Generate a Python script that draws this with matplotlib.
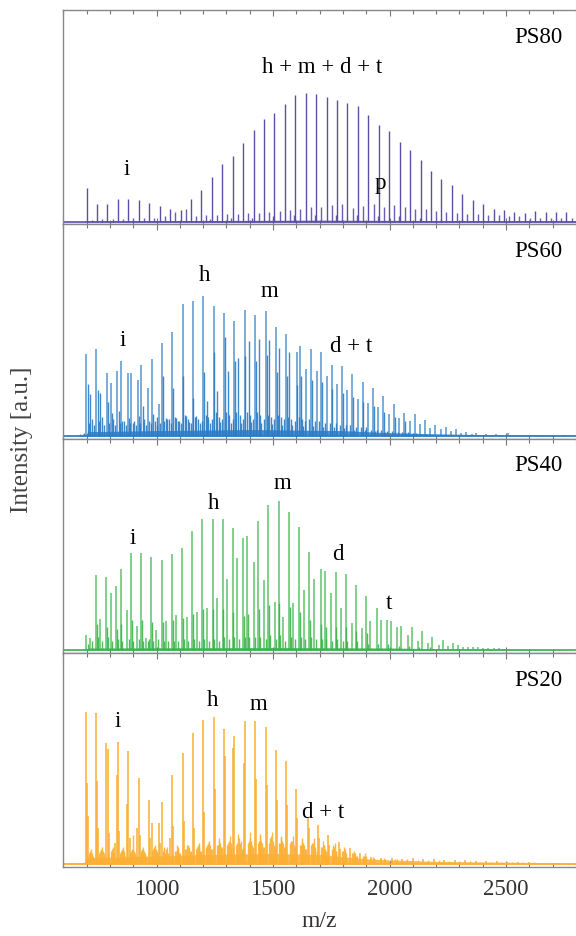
import numpy as np
import matplotlib
matplotlib.use('Agg')
import matplotlib.pyplot as plt
from matplotlib.ticker import MultipleLocator

plt.rcParams['font.family'] = ['Liberation Serif', 'DejaVu Serif']

# ---- data (m/z, intensity as % of panel height) ----
samples = ['PS80', 'PS60', 'PS40', 'PS20']
colors = ['#5a4fa6', '#2a7cc6', '#3cb54a', '#fbb034']

ps80_main = [(700, 15.6), (745, 8.4), (789, 8.1), (834, 10.7), (879, 10.6), (924, 10.4), (968, 9.0),
             (1013, 7.5), (1058, 5.9), (1103, 5.5), (1147, 10.7), (1192, 14.8), (1237, 20.9), (1282, 26.8),
             (1326, 30.8), (1371, 36.8), (1416, 43.1), (1461, 48.1), (1506, 50.8), (1550, 55.1), (1595, 59.2),
             (1640, 60.4), (1685, 59.8), (1730, 58.4), (1775, 56.9), (1819, 55.6), (1864, 53.9), (1909, 50.0),
             (1954, 45.0), (1998, 42.5), (2043, 37.1), (2088, 33.5), (2133, 28.7), (2177, 23.7), (2222, 20.1),
             (2267, 17.0), (2312, 13.2), (2356, 10.3), (2401, 8.1), (2446, 6.2), (2491, 5.3), (2535, 4.5),
             (2580, 4.2), (2625, 5.0), (2670, 4.7), (2715, 4.5), (2759, 4.7)]
ps80_minor = [(722, 1.0), (767, 1.2), (811, 1.5), (856, 1.5), (901, 1.8), (946, 1.8), (990, 2.0), (1035, 2.5),
              (1080, 4.5), (1125, 6.0), (1169, 2.5), (1214, 3.0), (1259, 3.0), (1304, 3.5), (1348, 3.5),
              (1393, 4.0), (1438, 4.0), (1483, 4.5), (1528, 5.0), (1572, 5.5), (1617, 6.0), (1662, 6.8),
              (1707, 7.0), (1752, 8.0), (1797, 8.5), (1841, 6.5), (1886, 7.5), (1931, 8.5), (1976, 7.0),
              (2020, 8.0), (2065, 7.0), (2110, 6.0), (2155, 6.0), (2199, 5.0), (2244, 4.5), (2289, 4.0),
              (2334, 3.5), (2378, 3.5), (2423, 3.0), (2468, 3.0), (2513, 2.5), (2557, 2.5), (2602, 2.0),
              (2647, 2.0), (2692, 2.0), (2737, 2.0), (2781, 2.0)]
ps80_small = [(1230, 1.5), (1320, 2.0), (1410, 2.0), (1500, 2.5), (1590, 3.0), (1680, 3.0), (1770, 3.0),
              (1860, 3.0), (1950, 2.5), (2040, 2.5), (2130, 2.0), (2220, 1.5), (2310, 1.5)]
ps80_floor = [(600, 0.0), (690, 0.0), (700, 0.4), (1200, 0.6), (1700, 0.8), (2200, 0.6), (2800, 0.4)]

ps60_main = [(697, 38.5), (741, 40.8), (786, 29.3), (803, 24.9), (831, 30.2), (847, 35.0), (876, 29.3),
             (891, 29.3), (920, 26.3), (934, 33.0), (964, 22.3), (979, 36.0), (1009, 15.1), (1023, 43.3),
             (1068, 48.5), (1112, 61.4), (1155, 62.8), (1201, 65.3), (1245, 60.6), (1289, 57.6), (1333, 53.6),
             (1378, 59.0), (1423, 56.5), (1469, 58.5), (1512, 50.9), (1556, 47.4), (1601, 39.1), (1616, 41.8),
             (1643, 31.2), (1663, 40.5), (1687, 30.4), (1707, 39.0), (1731, 28.0), (1751, 33.2), (1775, 24.1),
             (1796, 32.9), (1819, 21.3), (1840, 29.1), (1864, 17.1), (1884, 25.4), (1908, 15.6), (1929, 22.6),
             (1952, 13.6), (1973, 18.5), (1997, 10.1), (2019, 15.1), (2041, 8.6), (2063, 10.7), (2086, 7.0),
             (2108, 10.1), (2130, 5.5), (2151, 7.3), (2174, 3.9), (2197, 5.0), (2219, 3.1), (2243, 4.2),
             (2263, 2.3), (2286, 3.1), (2307, 1.5), (2329, 2.0), (2352, 1.0), (2372, 1.2), (2415, 1.1),
             (2458, 0.9), (2508, 1.5), (2550, 0.6), (2600, 0.6), (2650, 0.5), (2700, 0.5), (2750, 0.5)]
ps60_minor = [(672, 0.8), (683, 1.0), (690, 1.6), (705, 24.1), (716, 19.5), (748, 21.5), (759, 19.9),
              (792, 15.9), (808, 10.9), (837, 11.7), (853, 7.0), (882, 8.6), (900, 6.2), (924, 9.3), (940, 14.0),
              (969, 7.0), (986, 10.1), (1003, 8.9), (1026, 28.0), (1040, 8.3), (1053, 8.0), (1071, 22.6),
              (1083, 8.6), (1097, 7.0), (1115, 28.0), (1128, 9.3), (1141, 6.5), (1158, 17.9), (1171, 9.3),
              (1186, 6.0), (1204, 30.0), (1215, 16.4), (1230, 6.0), (1248, 39.0), (1260, 21.0), (1274, 6.5),
              (1292, 46.0), (1307, 30.4), (1318, 6.0), (1336, 35.0), (1351, 36.3), (1362, 6.0), (1381, 37.4),
              (1395, 44.4), (1406, 6.5), (1426, 35.0), (1439, 45.2), (1450, 6.0), (1472, 38.0), (1484, 44.7),
              (1495, 5.5), (1515, 30.0), (1527, 41.3), (1539, 5.0), (1559, 28.0), (1570, 39.0), (1583, 5.0),
              (1604, 24.0), (1619, 28.0), (1627, 4.5), (1666, 26.0), (1672, 4.5), (1710, 25.0), (1716, 4.0),
              (1754, 22.0), (1760, 4.0), (1799, 20.0), (1804, 3.5), (1843, 18.0), (1848, 3.0), (1887, 16.0),
              (1893, 3.0), (1932, 14.0), (1937, 2.5), (1976, 11.0), (1981, 2.0), (2022, 9.0), (2025, 2.0),
              (2066, 7.0), (2070, 1.5), (2114, 1.5), (2158, 1.0)]
ps60_small = [(711, 6), (722, 8), (730, 5), (755, 7), (766, 9), (774, 5), (798, 6), (815, 8), (822, 5), (842, 6),
              (860, 7), (868, 5), (886, 6), (905, 7), (912, 5), (929, 6), (947, 8), (955, 5), (974, 6), (993, 7),
              (1000, 5), (1016, 6), (1033, 7), (1046, 8), (1060, 6), (1077, 9), (1090, 7), (1104, 6), (1121, 10),
              (1134, 8), (1148, 6), (1164, 9), (1178, 8), (1193, 7), (1210, 10), (1222, 9), (1238, 8), (1254, 11),
              (1267, 9), (1282, 8), (1298, 11), (1312, 10), (1326, 8), (1343, 11), (1356, 10), (1370, 8),
              (1388, 11), (1400, 10), (1414, 8), (1432, 11), (1446, 10), (1460, 8), (1477, 10), (1490, 9),
              (1505, 8), (1520, 10), (1534, 9), (1548, 8), (1565, 9), (1578, 8), (1592, 7), (1610, 9), (1624, 8),
              (1636, 7), (1655, 8), (1680, 7), (1699, 7), (1724, 6), (1743, 6), (1768, 6), (1788, 5), (1812, 5),
              (1832, 5), (1856, 4), (1876, 4), (1900, 4), (1920, 3), (1945, 3), (1965, 3), (1990, 2.5),
              (2010, 2.5), (2035, 2), (2055, 2), (2080, 2), (2100, 1.5)]
ps60_floor = [(600, 0.3), (695, 0.3), (705, 2.0), (1000, 2.5), (1400, 3.0), (1800, 2.5), (2000, 1.5),
              (2200, 1.0), (2400, 0.6), (2800, 0.4)]

ps40_main = [(697, 7.0), (716, 5.5), (740, 35.0), (759, 14.5), (785, 34.1), (803, 26.5), (828, 29.8), (846, 37.9),
             (872, 18.7), (891, 45.2), (916, 11.1), (935, 45.5), (955, 5.5), (978, 43.3), (998, 9.2), (1023, 42.1),
             (1040, 13.7), (1066, 44.7), (1084, 16.4), (1110, 47.5), (1129, 15.6), (1154, 55.6), (1172, 17.9),
             (1197, 61.1), (1216, 19.5), (1241, 61.1), (1260, 24.1), (1283, 61.1), (1303, 33.2), (1327, 57.2),
             (1347, 42.8), (1371, 52.2), (1390, 53.4), (1417, 41.3), (1435, 60.4), (1461, 32.7), (1479, 67.8),
             (1507, 22.6), (1524, 69.6), (1543, 15.6), (1568, 64.3), (1586, 22.1), (1611, 57.5), (1631, 28.0),
             (1655, 45.9), (1677, 33.1), (1704, 37.7), (1722, 36.9), (1748, 26.8), (1768, 36.6), (1793, 19.5),
             (1811, 35.7), (1837, 12.5), (1855, 30.4), (1880, 10.5), (1899, 25.2), (1918, 13.6), (1944, 19.5),
             (1962, 13.9), (1988, 14.0), (2007, 13.6), (2033, 10.7), (2051, 11.4), (2077, 7.0), (2095, 10.7),
             (2121, 4.2), (2140, 8.9), (2166, 3.1), (2184, 5.9), (2210, 2.5), (2229, 4.7), (2250, 2.0),
             (2272, 3.1), (2293, 2.3), (2315, 1.6), (2337, 1.3), (2358, 1.3), (2380, 1.2), (2402, 1.1),
             (2424, 1.0), (2446, 0.8), (2468, 0.8), (2490, 0.6), (2512, 0.6)]
ps40_minor = [(705, 3), (724, 4), (748, 6), (766, 4), (792, 6), (810, 4), (836, 5), (853, 4), (880, 5), (898, 4),
              (924, 5), (941, 4), (962, 4), (968, 5), (985, 4), (1005, 5), (1030, 4), (1048, 4), (1073, 4),
              (1092, 4), (1117, 5), (1136, 4), (1161, 5), (1180, 4), (1205, 5), (1223, 4), (1248, 5), (1267, 4),
              (1290, 6), (1310, 5), (1334, 6), (1354, 5), (1378, 6), (1397, 6), (1424, 6), (1442, 6), (1468, 5),
              (1486, 7), (1514, 5), (1531, 7), (1550, 4), (1575, 6), (1593, 5), (1618, 6), (1638, 5), (1662, 6),
              (1684, 5), (1711, 5), (1729, 5), (1755, 4), (1775, 5), (1800, 4), (1818, 4), (1862, 4), (1906, 3),
              (1951, 3), (1995, 3), (2040, 2), (2084, 2), (2128, 1.5), (2173, 1.2)]
ps40_small = [(743, 12), (788, 11), (831, 10), (849, 12), (894, 14), (938, 14), (981, 13), (1026, 13),
              (1069, 14), (1113, 15), (1157, 17), (1200, 19), (1244, 19), (1286, 19), (1330, 18), (1374, 16),
              (1393, 17), (1438, 19), (1482, 21), (1527, 22), (1571, 20), (1614, 18), (1658, 14), (1707, 12),
              (1725, 11), (1771, 11), (1814, 11), (1858, 9), (1902, 8)]
ps40_floor = [(600, 0.2), (695, 0.2), (705, 1.0), (1500, 1.2), (2000, 1.0), (2200, 0.6), (2520, 0.4), (2800, 0.1)]

ps20_main = [(697, 71.3), (701, 37.9), (705, 22.6), (740, 70.4), (744, 38.9), (750, 16.8), (785, 56.5), (792, 53.9),
             (798, 14.5), (820, 9.8), (829, 41.7), (834, 56.9), (838, 15.4), (872, 28.0), (879, 52.7), (884, 12.0),
             (916, 16.8), (923, 40.2), (928, 13.7), (967, 30.0), (972, 12.0), (979, 19.2), (1011, 19.2),
             (1016, 10.0), (1023, 29.0), (1058, 12.1), (1067, 41.7), (1072, 18.0), (1114, 51.9), (1118, 20.0),
             (1158, 61.2), (1162, 16.8), (1201, 67.4), (1205, 24.3), (1246, 68.7), (1250, 35.0), (1288, 63.1),
             (1292, 50.5), (1330, 54.2), (1334, 59.7), (1376, 47.2), (1380, 66.7), (1423, 66.7), (1427, 40.0),
             (1469, 64.0), (1473, 37.0), (1512, 53.1), (1516, 30.0), (1557, 48.0), (1561, 27.7), (1600, 35.2),
             (1604, 21.5), (1649, 21.5), (1653, 17.0), (1693, 18.1), (1697, 12.0), (1737, 13.7), (1741, 9.0),
             (1782, 10.3), (1786, 7.0), (1828, 7.5), (1875, 5.1), (1920, 3.5), (1965, 3.0), (2010, 2.8),
             (2055, 2.5), (2100, 2.8), (2145, 2.5), (2190, 2.2), (2235, 2.0), (2280, 2.0), (2325, 1.8),
             (2370, 1.6), (2415, 1.5), (2460, 1.3), (2505, 1.2), (2550, 1.0), (2600, 0.9)]
ps20_minor = [(712, 5), (720, 7), (728, 4), (757, 6), (765, 8), (773, 5), (808, 7), (814, 5), (848, 6), (856, 8),
              (862, 5), (890, 6), (900, 13.7), (906, 5), (935, 6), (943, 8), (950, 5), (985, 7), (992, 9),
              (1000, 6), (1030, 7), (1037, 5), (1045, 8), (1082, 6), (1090, 8), (1096, 5), (1127, 7), (1135, 9),
              (1142, 6), (1173, 8), (1181, 10), (1187, 6), (1211, 7), (1218, 9), (1226, 11), (1233, 7), (1262, 9),
              (1270, 12), (1277, 8), (1306, 10), (1314, 13), (1321, 8), (1343, 9), (1350, 14), (1358, 10),
              (1365, 7), (1395, 11), (1403, 15), (1410, 9), (1435, 10), (1442, 14), (1450, 11), (1457, 8),
              (1487, 12), (1495, 15), (1502, 9), (1525, 10), (1532, 13), (1540, 11), (1547, 8), (1577, 11),
              (1585, 13), (1592, 8), (1615, 9), (1622, 12), (1630, 10), (1637, 7), (1667, 10), (1675, 12),
              (1682, 7), (1706, 8), (1713, 11), (1720, 9), (1727, 6), (1758, 9), (1765, 10), (1772, 6), (1795, 6),
              (1803, 8), (1810, 5), (1840, 5), (1848, 6), (1855, 4), (1885, 4), (1893, 5), (1930, 3.5), (1975, 3),
              (2030, 2.5), (2075, 2.2), (2120, 2), (2165, 2), (2210, 1.8), (2255, 1.5), (2300, 1.5), (2345, 1.3),
              (2390, 1.2), (2435, 1.1), (2480, 1.0), (2525, 0.9), (2570, 0.8), (2620, 0.8), (2670, 0.7),
              (2720, 0.7), (2770, 0.6)]
ps20_small = [(709, 4), (716, 6), (724, 5), (732, 3), (754, 5), (761, 7), (769, 6), (778, 4), (803, 6), (811, 8),
              (817, 5), (844, 5), (852, 7), (859, 6), (866, 4), (887, 5), (894, 7), (903, 6), (910, 4), (932, 5),
              (939, 7), (946, 6), (955, 4), (981, 6), (988, 8), (996, 7), (1004, 5), (1027, 6), (1034, 8),
              (1041, 7), (1050, 5), (1077, 6), (1086, 9), (1093, 7), (1101, 5), (1123, 7), (1131, 9), (1138, 8),
              (1147, 6), (1169, 7), (1177, 9), (1184, 8), (1192, 6), (1214, 8), (1222, 10), (1229, 9), (1238, 7),
              (1258, 9), (1266, 11), (1274, 10), (1282, 8), (1302, 9), (1310, 11), (1318, 10), (1326, 8),
              (1346, 10), (1354, 12), (1362, 11), (1370, 8), (1391, 10), (1399, 12), (1407, 11), (1415, 8),
              (1438, 11), (1446, 13), (1454, 10), (1462, 8), (1483, 10), (1491, 13), (1499, 11), (1507, 8),
              (1528, 10), (1536, 12), (1544, 10), (1552, 8), (1573, 10), (1581, 11), (1589, 9), (1596, 7),
              (1618, 9), (1626, 11), (1634, 9), (1642, 7), (1663, 9), (1671, 10), (1679, 8), (1687, 6), (1709, 8),
              (1717, 9), (1724, 7), (1732, 5), (1754, 7), (1762, 8), (1769, 6), (1777, 4), (1799, 6), (1807, 7),
              (1814, 5), (1844, 5), (1852, 5), (1860, 4), (1889, 4), (1897, 4), (1935, 3), (1980, 2.5),
              (2025, 2.5), (2070, 2)]
ps20_floor = [(600, 0.6), (690, 0.8), (700, 3.0), (900, 3.5), (1200, 4.5), (1500, 5.0), (1700, 4.5), (1800, 3.5),
              (1900, 2.5), (2000, 2.0), (2200, 1.3), (2500, 0.9), (2800, 0.6)]

# annotations: (text, m/z, height)
ps80_notes = [('h + m + d + t', 1709, 72.0), ('i', 873, 24.3), ('p', 1961, 18.0)]
ps60_notes = [('h', 1207, 75.1), ('m', 1486, 67.6), ('i', 856, 44.7), ('d + t', 1837, 41.9)]
ps40_notes = [('h', 1246, 68.6), ('m', 1542, 77.9), ('i', 899, 52.2), ('d', 1777, 44.7), ('t', 1996, 21.8)]
ps20_notes = [('h', 1242, 76.6), ('m', 1439, 74.8), ('i', 834, 66.4), ('d + t', 1714, 24.3)]

main_peaks = [ps80_main, ps60_main, ps40_main, ps20_main]
minor_peaks = [ps80_minor, ps60_minor, ps40_minor, ps20_minor]
small_peaks = [ps80_small, ps60_small, ps40_small, ps20_small]
floors = [ps80_floor, ps60_floor, ps40_floor, ps20_floor]
notes = [ps80_notes, ps60_notes, ps40_notes, ps20_notes]
line_w = [1.0, 1.1, 1.2, 1.4]
line_a = [1.0, 0.8, 0.75, 0.8]

fig, axes = plt.subplots(4, 1, figsize=(5.76, 9.36), dpi=100, sharex=True)
fig.subplots_adjust(left=0.11, right=1.0, top=0.989, bottom=0.074, hspace=0)

for i, ax in enumerate(axes):
    col = colors[i]
    fm, fh = zip(*floors[i])
    ax.fill_between(fm, 0, fh, color=col, lw=0, alpha=0.85)
    ax.axhline(0, color=col, lw=1.2)
    for series in (small_peaks[i], minor_peaks[i]):
        m, h = zip(*series)
        ax.vlines(m, 0, h, color=col, lw=1.0, alpha=0.9)
    m, h = zip(*main_peaks[i])
    ax.vlines(m, 0, h, color=col, lw=line_w[i], alpha=line_a[i])
    for t, x, y in notes[i]:
        ax.text(x, y, t, ha='center', va='center', fontsize=16.5, color='black')
    ax.text(2639, 86, samples[i], ha='center', va='center', fontsize=16.5, color='black')

    ax.set_xlim(600, 2800)
    ax.set_ylim(-1.2, 98.8)
    ax.set_yticks([])
    ax.xaxis.set_major_locator(MultipleLocator(500))
    ax.xaxis.set_minor_locator(MultipleLocator(100))
    ax.tick_params(which='both', direction='in', top=True, bottom=True, color='#777777',
                   labelcolor='#333333', labelsize=16.5, width=0.8, pad=9)
    ax.tick_params(which='major', length=4.5)
    ax.tick_params(which='minor', length=3)
    for s in ['left', 'top', 'bottom']:
        ax.spines[s].set_color('#888888')
        ax.spines[s].set_linewidth(1.0)
    ax.spines['right'].set_visible(False)

axes[-1].set_xlabel('m/z', fontsize=17, color='#333333', labelpad=8)
fig.text(0.038, 0.53, 'Intensity [a.u.]', rotation=90, ha='center', va='center', fontsize=18, color='#444444')

fig.savefig('out.png', dpi=100)
